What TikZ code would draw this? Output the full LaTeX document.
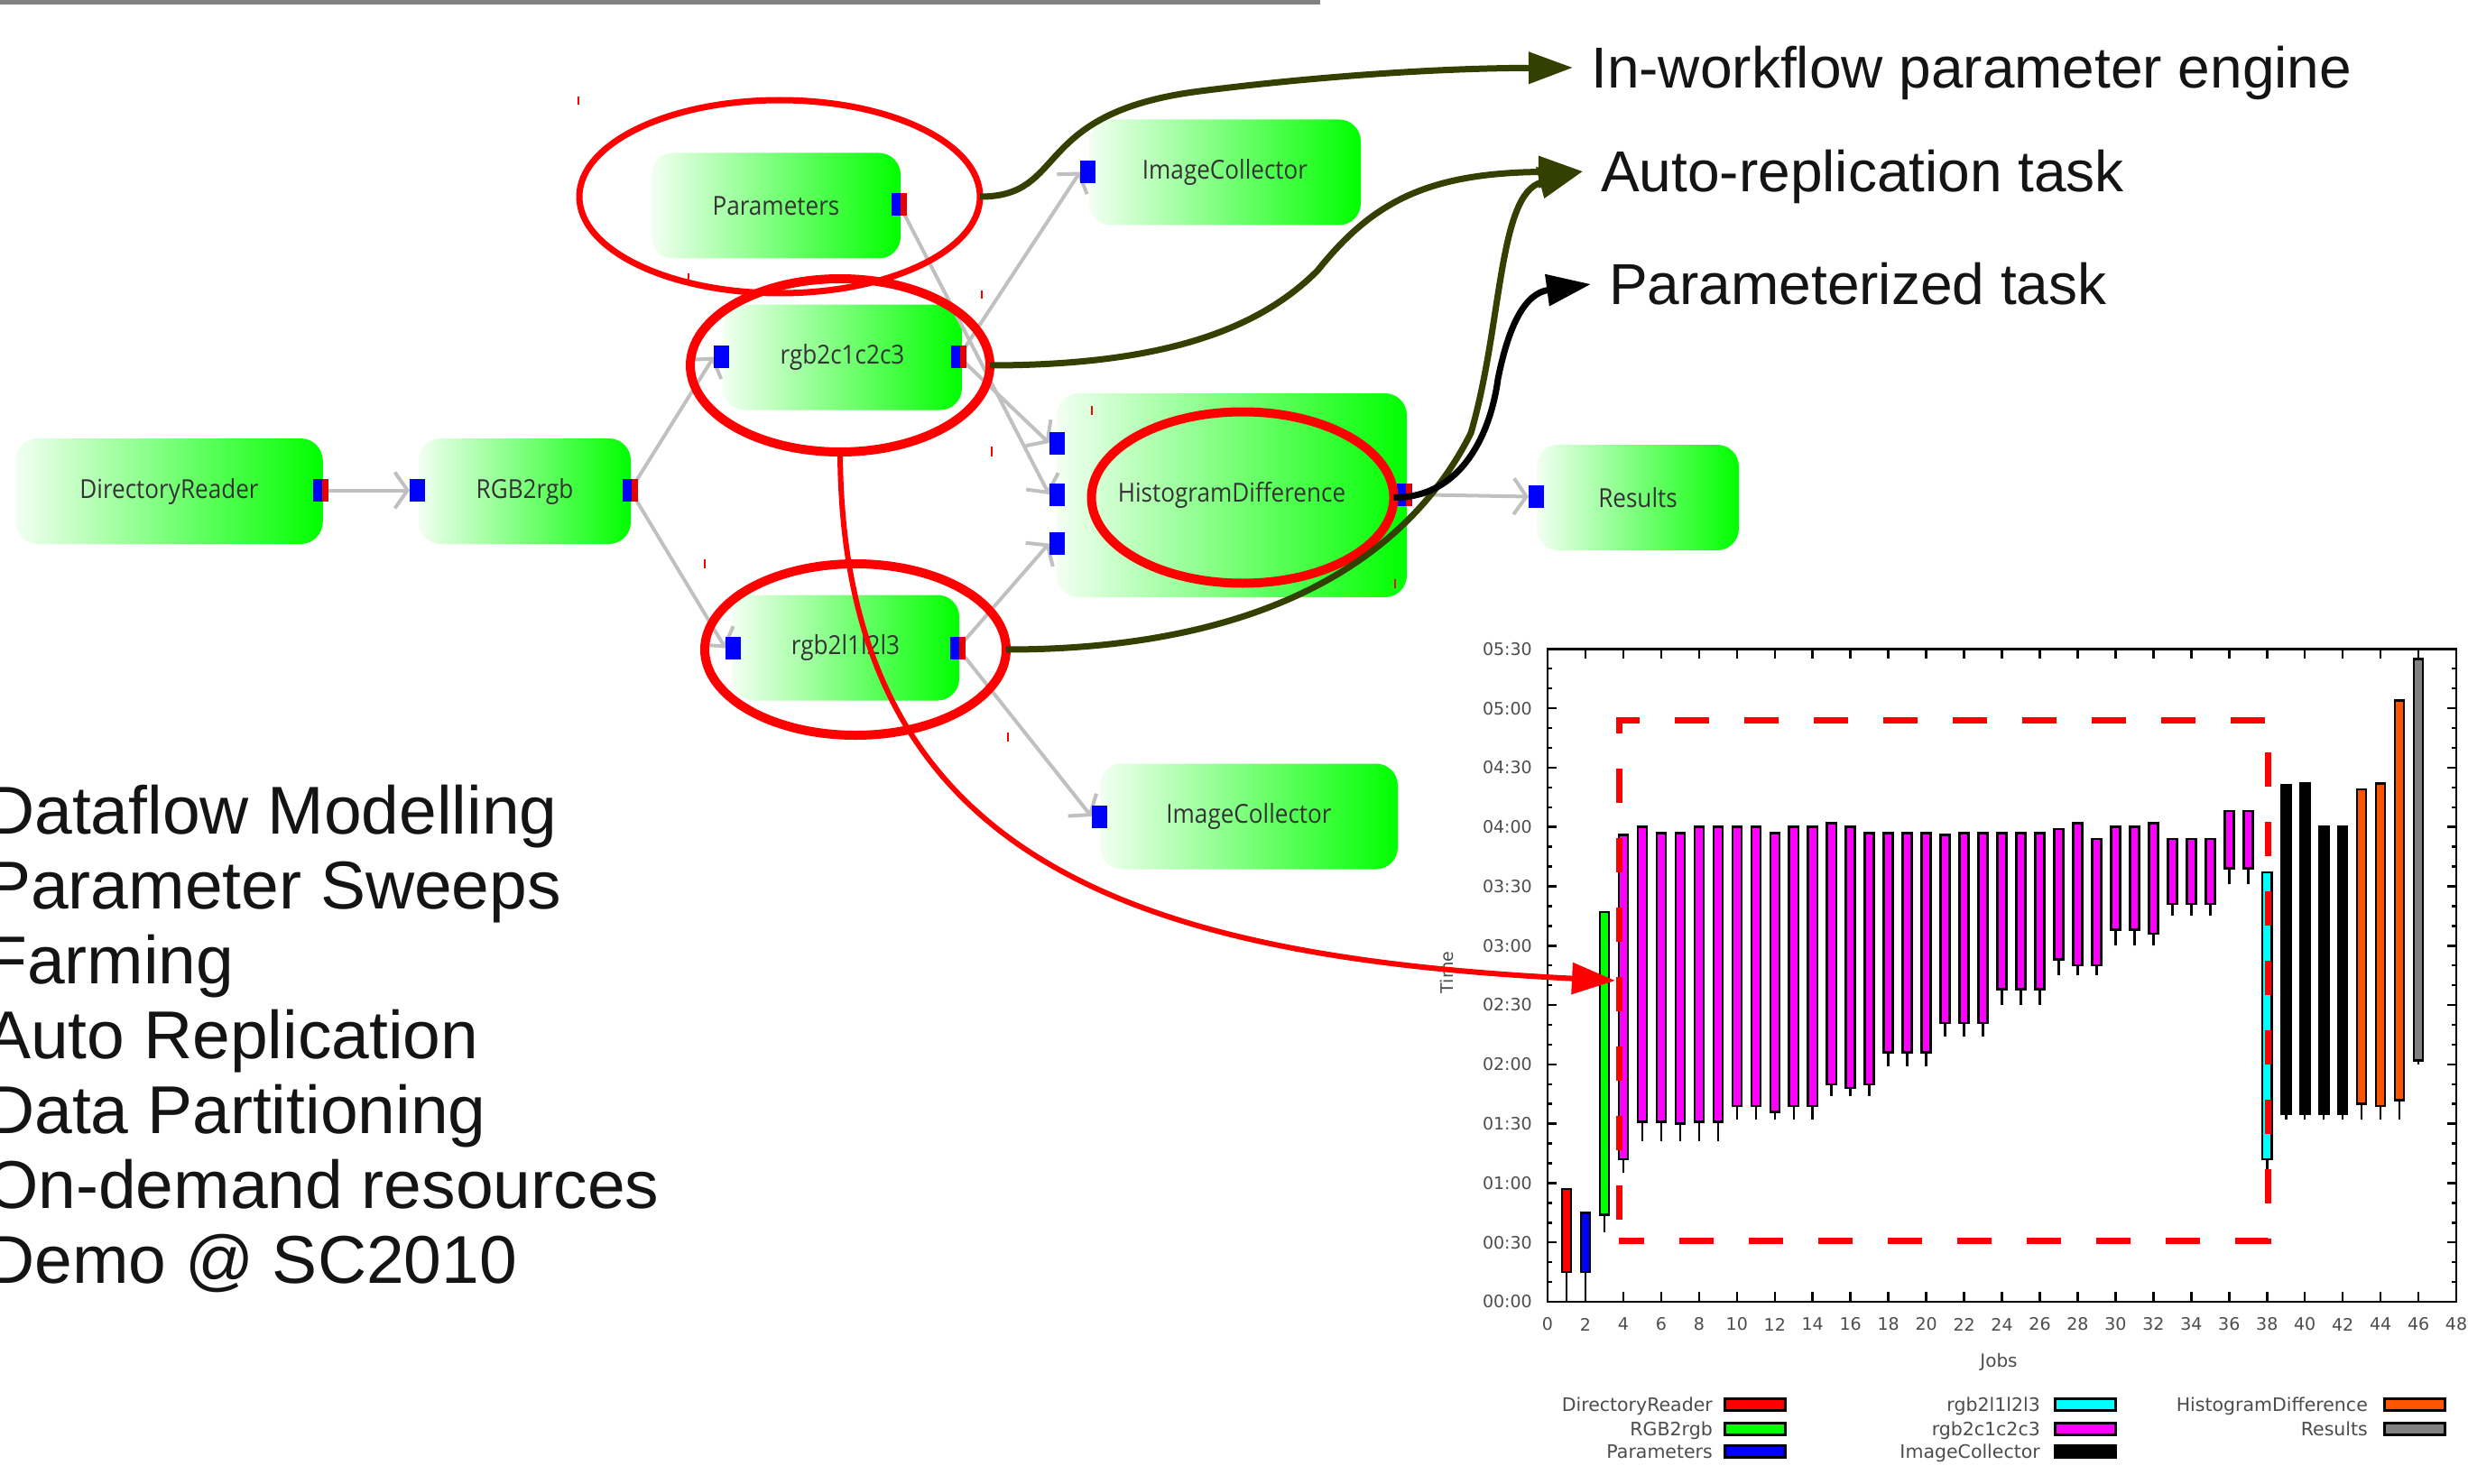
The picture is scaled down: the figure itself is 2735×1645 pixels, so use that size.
\documentclass[tikz,border=0pt]{standalone}
\usepackage{fontspec}
\setmainfont{Liberation Sans}
\newfontfamily\wffont[FakeStretch=0.9]{Open Sans}
\newfontfamily\gpfont{DejaVu Sans}
\usetikzlibrary{arrows.meta,shapes.geometric}

\pgfdeclarelayer{boxes}
\pgfdeclarelayer{links}
\pgfsetlayers{boxes,links,main}

\definecolor{olivedark}{RGB}{51,64,0}
\definecolor{wfgreen}{RGB}{0,255,0}
\definecolor{wfpale}{RGB}{242,255,242}
\definecolor{linkgray}{RGB}{192,192,192}
\definecolor{txtgray}{RGB}{51,51,51}
\definecolor{rulegray}{RGB}{130,130,130}
\definecolor{hdorange}{RGB}{255,85,0}
\definecolor{resgray}{RGB}{128,128,128}
\definecolor{gpmag}{RGB}{255,0,255}
\definecolor{gpcyan}{RGB}{0,255,255}
\definecolor{gpgreen}{RGB}{0,255,0}
\definecolor{gpblue}{RGB}{0,0,255}
\definecolor{gpred}{RGB}{255,0,0}

\tikzset{
  wftask/.style={rectangle, rounded corners=24pt, left color=wfpale, right color=wfgreen,
    minimum height=117pt, inner sep=0pt, text=txtgray,
    font=\wffont\fontsize{29pt}{34pt}\selectfont},
  wfin/.style={rectangle, fill=blue, minimum width=17pt, minimum height=25pt,
    inner sep=0pt, outer sep=0pt},
  wfout/.style={wfin, path picture={\fill[red!90!black]
    ([xshift=-7pt]path picture bounding box.north east) rectangle
    (path picture bounding box.south east);}},
  wflink/.style={draw=linkgray, line width=4pt,
    -{Straight Barb[length=14pt,width=40pt]}},
  wfring/.style={ellipse, draw=red, inner sep=0pt, outer sep=0pt},
  wfcurve/.style={draw=olivedark, line width=7pt,
    -{Triangle[length=49pt,width=34pt]}},
  selmark/.style={draw=red, line width=2pt},
  calltext/.style={anchor=west, inner sep=0pt, text height=45pt, text depth=0pt,
    font=\fontsize{64pt}{72pt}\selectfont, text=black!92},
  bullettext/.style={anchor=base west, inner sep=0pt,
    font=\fontsize{75pt}{83pt}\selectfont, text=black!92},
  gpline/.style={draw=black, line width=2.5pt},
  gptick/.style={inner sep=0pt, text=black!70, font=\gpfont\fontsize{19pt}{22pt}\selectfont},
  gpkey/.style={anchor=east, inner sep=0pt, text height=15pt, text depth=0pt,
    text=black!70, font=\gpfont\fontsize{20.5pt}{24pt}\selectfont},
  gpswatch/.style={draw=black, line width=3pt}
}

\begin{document}
\begin{tikzpicture}[x=1pt,y=-1pt]
\useasboundingbox (0,0) rectangle (2735,1645);

% slide rule at the top
\draw[line width=5pt, draw=rulegray] (0,2.5) -- (1463,2.5);

% ---------- workflow tasks ----------
\begin{pgfonlayer}{boxes}
  \node[wftask, minimum width=340pt] (dr)   at (187.5,544.5) {DirectoryReader};
  \node[wftask, minimum width=235pt] (rgb)  at (581.5,544.5) {RGB2rgb};
  \node[wftask, minimum width=276pt] (par)  at (860,228)     {Parameters};
  \node[wftask, minimum width=265pt] (c123) at (933.5,396)   {rgb2c1c2c3};
  \node[wftask, minimum width=252pt] (l123) at (937,718)     {rgb2l1l2l3};
  \node[wftask, minimum width=301pt] (ic1)  at (1357.5,191)  {ImageCollector};
  \node[wftask, minimum width=388pt, minimum height=226pt] (hd) at (1365,549) {HistogramDifference};
  \node[wftask, minimum width=224pt] (res)  at (1815,551.5)  {Results};
  \node[wftask, minimum width=330pt] (ic2)  at (1384,905)    {ImageCollector};
\end{pgfonlayer}

% ports
\node[wfout] (drO)  at (355.5,543.5) {};
\node[wfin]  (rgbI) at (462.5,543.5) {};
\node[wfout] (rgbO) at (698.5,543.5) {};
\node[wfout] (parO) at (996.5,226.5) {};
\node[wfin]  (cI)   at (799.5,395.5) {};
\node[wfout] (cO)   at (1062.5,395.5) {};
\node[wfin]  (lI)   at (812.5,718.5) {};
\node[wfout] (lO)   at (1061.5,718.5) {};
\node[wfin]  (ic1I) at (1205.5,190.5) {};
\node[wfin]  (hdI1) at (1171,491) {};
\node[wfin]  (hdI2) at (1171,548) {};
\node[wfin]  (hdI3) at (1171,602.5) {};
\node[wfout] (hdO)  at (1556,548) {};
\node[wfin]  (resI) at (1702.5,550.5) {};
\node[wfin]  (ic2I) at (1218,905) {};

% data links
\begin{pgfonlayer}{links}
  \draw[wflink] (drO.center) -- (rgbI.west);
  \draw[wflink] (rgbO.center) -- (cI.west);
  \draw[wflink] (rgbO.center) -- (lI.west);
  \draw[wflink] (parO.center) -- (hdI2.west);
  \draw[wflink] (cO.center) -- (ic1I.west);
  \draw[wflink] (cO.center) -- (hdI1.west);
  \draw[wflink] (lO.center) -- (hdI3.west);
  \draw[wflink] (lO.center) -- (ic2I.west);
  \draw[wflink] (hdO.center) -- (resI.west);
\end{pgfonlayer}

% selection handles
\draw[selmark] (641,107) -- (641,116);
\draw[selmark] (763,303) -- (763,312);
\draw[selmark] (1088,322) -- (1088,331);
\draw[selmark] (1099,495) -- (1099,506);
\draw[selmark] (1210,450) -- (1210,460);
\draw[selmark] (781,620) -- (781,630);
\draw[selmark] (1117,812) -- (1117,822);
\draw[selmark] (1546,642) -- (1546,652);

% highlight rings
\node[wfring, line width=7pt,  minimum width=444pt, minimum height=214pt] (pe) at (864,218) {};
\node[wfring, line width=10pt, minimum width=332pt, minimum height=192pt] (ce) at (931,405) {};
\node[wfring, line width=10pt, minimum width=334pt, minimum height=190pt] (le) at (948,720) {};
\node[wfring, line width=10pt, minimum width=335pt, minimum height=190pt] (he) at (1377,551.5) {};

% callouts
\node[calltext] (tA) at (1763,75)  {In-workflow parameter engine};
\node[calltext] (tB) at (1774,190) {Auto-replication task};
\node[calltext] (tC) at (1783,315) {Parameterized task};

\draw[wfcurve] (pe.east) .. controls (1185,218) and (1140,125) .. (1330,101)
  .. controls (1400,92) and (1550,76) .. ([xshift=-20pt]tA.west);
\draw[wfcurve] (ce.east) .. controls (1300,405) and (1400,360) .. (1460,300)
  .. controls (1520,225) and (1580,192) .. ([xshift=-20pt]tB.west);
\draw[wfcurve] (le.east) .. controls (1400,720) and (1560,620) .. (1630,480)
  .. controls (1665,360) and (1660,215) .. ([xshift=-20pt]tB.west);
\draw[wfcurve, draw=black] (he.east) .. controls (1620,552) and (1652,480) .. (1660,420)
  .. controls (1672,360) and (1690,325) .. ([xshift=-20pt]tC.west);

% feature list
\foreach \t [count=\i from 0] in {Dataflow Modelling,Parameter Sweeps,Farming,Auto Replication,Data Partitioning,On-demand resources,Demo @ SC2010}
  \node[bullettext] (item\i) at (-16,{924.6+82.9*\i}) {\t};

% ---------- execution time chart ----------
\begin{scope}[shift={(1715,1443)}, x=20.98pt, y=2.193pt]
  \foreach \j in {2,4,...,46} {
    \draw[gpline] (\j,0) -- ++(0,5);
    \draw[gpline] (\j,330) -- ++(0,-5);
  }
  \foreach \m in {0,30,...,330} {
    \draw[gpline] (0,\m) -- ++(0.48,0);
    \draw[gpline] (48,\m) -- ++(-0.48,0);
  }
  \foreach \m in {0,30,...,300} {
    \draw[gpline] (0,\m+10) -- ++(0.24,0);
    \draw[gpline] (0,\m+20) -- ++(0.24,0);
    \draw[gpline] (48,\m+10) -- ++(-0.24,0);
    \draw[gpline] (48,\m+20) -- ++(-0.24,0);
  }
  \foreach \j in {0,2,...,48}
    \node[gptick] (xl\j) at (\j,-11.4) {\j};
  \foreach \m/\t in {0/00:00,30/00:30,60/01:00,90/01:30,120/02:00,150/02:30,
                     180/03:00,210/03:30,240/04:00,270/04:30,300/05:00,330/05:30}
    \node[gptick, anchor=east] (yl\m) at (-0.81,\m) {\t};

  \foreach \j/\lo/\bo/\tp/\c in {
      1/0/15/57/gpred, 2/0/15/45/gpblue, 3/35/44/197/gpgreen,
      4/65/72/236/gpmag, 5/81/91/240/gpmag, 6/81/91/237/gpmag, 7/81/90/237/gpmag,
      8/81/91/240/gpmag, 9/81/91/240/gpmag, 10/92/99/240/gpmag, 11/92/99/240/gpmag,
      12/92/96/237/gpmag, 13/92/99/240/gpmag, 14/92/99/240/gpmag, 15/104/110/242/gpmag,
      16/104/108/240/gpmag, 17/104/110/237/gpmag, 18/119/126/237/gpmag, 19/119/126/237/gpmag,
      20/119/126/237/gpmag, 21/134/141/236/gpmag, 22/134/141/237/gpmag, 23/134/141/237/gpmag,
      24/150/158/237/gpmag, 25/150/158/237/gpmag, 26/150/158/237/gpmag, 27/165/173/239/gpmag,
      28/165/170/242/gpmag, 29/165/170/234/gpmag, 30/180/188/240/gpmag, 31/180/188/240/gpmag,
      32/180/186/242/gpmag, 33/195/201/234/gpmag, 34/195/201/234/gpmag, 35/195/201/234/gpmag,
      36/211/219/248/gpmag, 37/211/219/248/gpmag, 38/65/72/217/gpcyan,
      39/92/95/261/black, 40/92/95/262/black, 41/92/95/240/black, 42/92/95/240/black,
      43/92/100/259/hdorange, 44/92/99/262/hdorange, 45/92/102/304/hdorange,
      46/120/122/325/resgray} {
    \draw[gpline] (\j,\lo) -- (\j,\bo);
    \draw[gpline, fill=\c] (\j-0.24,\bo) rectangle (\j+0.24,\tp);
  }
  \draw[gpline] (0,0) rectangle (48,330);
\end{scope}

\node[gptick] (tlab) at (1603,1078) [rotate=90] {Time};
\node[gptick, font=\gpfont\fontsize{20pt}{24pt}\selectfont] (jlab) at (2215,1510) {Jobs};

% legend
\foreach \lx/\sx/\ry/\t/\c in {
    1898/1911/1556.5/DirectoryReader/gpred, 1898/1911/1583.5/RGB2rgb/gpgreen,
    1898/1911/1608.5/Parameters/gpblue,
    2261/2277/1556.5/rgb2l1l2l3/gpcyan, 2261/2277/1583.5/rgb2c1c2c3/gpmag,
    2261/2277/1608.5/ImageCollector/black,
    2624/2642/1556.5/HistogramDifference/hdorange, 2624/2642/1583.5/Results/resgray} {
  \node[gpkey] at (\lx,\ry) {\t};
  \draw[gpswatch, fill=\c] (\sx,\ry-6.5) rectangle (\sx+67,\ry+6.5);
}

% highlighted block of replicated jobs
\draw[draw=red, line width=7pt, dash pattern=on 38pt off 39pt, dash phase=54pt]
  (1794,1375) -- (1794,798) -- (2513,798) -- (2513,1375) -- cycle;

\coordinate (tipR) at (1790,1087);
\draw[draw=red, line width=6pt, -{Triangle[length=48pt,width=34pt]}]
  (ce.south) .. controls (933,950) and (1250,1060) .. (tipR);
\end{tikzpicture}
\end{document}
